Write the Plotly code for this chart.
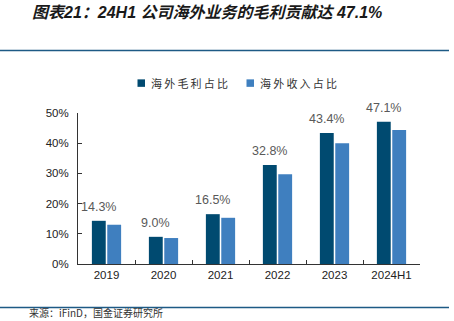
import plotly.graph_objects as go

categories = ["2019", "2020", "2021", "2022", "2023", "2024H1"]
gross_share = [14.3, 9.0, 16.5, 32.8, 43.4, 47.1]
revenue_share = [13.0, 8.6, 15.3, 29.7, 40.0, 44.4]
gross_labels = [f"{v:.1f}%" for v in gross_share]
series_names = ["海外毛利占比", "海外收入占比"]
y_ticks = [0, 10, 20, 30, 40, 50]
y_tick_labels = [f"{v}%" for v in y_ticks]

DARK = "#004a70"
LIGHT = "#3f7fbf"
W, H = 454, 321
L, R, T, B = 78, 420, 112.7, 264
PW, PH = R - L, B - T

def px(x):
    return (x - L) / PW

def py(y):
    return (B - y) / PH

fig = go.Figure()
fig.add_trace(go.Bar(
    x=categories, y=gross_share, name=series_names[0],
    marker=dict(color=DARK, line=dict(width=0)),
))
fig.add_trace(go.Bar(
    x=categories, y=revenue_share, name=series_names[1],
    marker=dict(color=LIGHT, line=dict(width=0)),
))

tsp = "\u2009"
shapes = [
    dict(type="line", xref="paper", yref="paper", x0=px(0), x1=px(449), y0=py(50), y1=py(50),
         line=dict(color="#1d5a85", width=1.5)),
    dict(type="line", xref="paper", yref="paper", x0=px(0), x1=px(449), y0=py(307.5), y1=py(307.5),
         line=dict(color="#1d5a85", width=1.5)),
    dict(type="rect", xref="paper", yref="paper", x0=px(137.5), x1=px(145), y0=py(79), y1=py(86.5),
         fillcolor=DARK, line=dict(width=0)),
    dict(type="rect", xref="paper", yref="paper", x0=px(246.5), x1=px(254), y0=py(79), y1=py(86.5),
         fillcolor=LIGHT, line=dict(width=0)),
]
annotations = [
    dict(text="<b><i>图表21：24H1 公司海外业务的毛利贡献达 47.1%</i></b>", xref="paper", yref="paper",
         x=px(30), y=py(12.5), xanchor="left", yanchor="middle", showarrow=False,
         font=dict(family="Liberation Sans, Noto Sans CJK SC", size=16, color="#1a1a1a")),
    dict(text=tsp.join(series_names[0]), xref="paper", yref="paper",
         x=px(149), y=py(83), xanchor="left", yanchor="middle", showarrow=False,
         font=dict(family="Noto Sans CJK SC", size=11, color="#333333")),
    dict(text=tsp.join(series_names[1]), xref="paper", yref="paper",
         x=px(258), y=py(83), xanchor="left", yanchor="middle", showarrow=False,
         font=dict(family="Noto Sans CJK SC", size=11, color="#333333")),
    dict(text="来源：iFinD，国金证券研究所", xref="paper", yref="paper",
         x=px(27), y=py(322), xanchor="left", yanchor="bottom", showarrow=False,
         font=dict(family="Noto Sans CJK SC", size=10, color="#333333")),
]
for i, (val, lab) in enumerate(zip(gross_share, gross_labels)):
    annotations.append(dict(
        text=lab, x=i, y=val, xref="x", yref="y",
        xanchor="center", yanchor="bottom", xshift=-8, yshift=5, showarrow=False,
        font=dict(family="Liberation Sans, Arial", size=12.5, color="#595959"),
    ))

fig.update_layout(
    width=W, height=H,
    margin=dict(l=L, r=W - R, t=T, b=H - B, pad=0),
    paper_bgcolor="white", plot_bgcolor="white",
    barmode="group", bargap=0.46, bargroupgap=0.1,
    showlegend=False,
    shapes=shapes, annotations=annotations,
    font=dict(family="Liberation Sans, Arial", color="#333333"),
)
fig.update_xaxes(
    type="category", categoryorder="array", categoryarray=categories,
    range=[-0.5, len(categories) - 0.5],
    showline=True, linecolor="#333333", linewidth=1,
    ticks="inside", tickson="boundaries", ticklen=4, tickcolor="#333333",
    tickfont=dict(size=11.5, color="#222222"), showgrid=False,
)
fig.update_yaxes(
    range=[0, 50], tickvals=y_ticks, ticktext=y_tick_labels,
    showline=True, linecolor="#333333", linewidth=1,
    ticks="inside", ticklen=4, tickcolor="#333333",
    tickfont=dict(size=11.5, color="#222222"), showgrid=False, zeroline=False,
    ticklabelstandoff=6,
)

fig.write_html("out.html")
